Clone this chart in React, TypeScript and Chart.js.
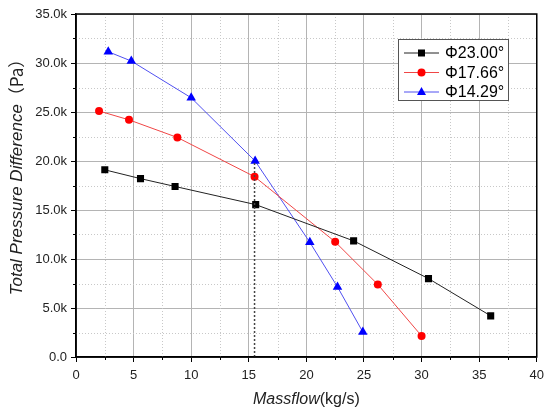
import { useEffect, useRef } from 'react';
import { Chart, registerables } from 'chart.js';

Chart.register(...registerables);

// Massflow (kg/s) vs total pressure difference (Pa)
const massflow23 = [2.5, 5.6, 8.6, 15.6, 24.1, 30.6, 36.0];
const pressure23 = [19100, 18200, 17400, 15550, 11850, 8000, 4200];

const massflow17 = [2.0, 4.6, 8.8, 15.5, 22.5, 26.2, 30.0];
const pressure17 = [25100, 24200, 22400, 18400, 11750, 7400, 2150];

const massflow14 = [2.8, 4.8, 10.0, 15.55, 20.3, 22.7, 24.9];
const pressure14 = [31150, 30200, 26450, 20000, 11700, 7150, 2550];

const seriesLabels = ['Φ23.00°', 'Φ17.66°', 'Φ14.29°'];
const markerColors = ['#000000', '#ff0000', '#0000ff'];
const lineColors = ['#222222', 'rgb(240,70,70)', 'rgb(80,80,240)'];
const markerShapes = ['rect', 'circle', 'triangle'];

// dotted marker line at the design massflow
const guideX = [15.5, 15.5];
const guideY = [0, 20000];

const xMinorTicks = [2.5, 7.5, 12.5, 17.5, 22.5, 27.5, 32.5, 37.5];
const yMinorTicks = [2500, 7500, 12500, 17500, 22500, 27500, 32500];

const FONT = '"Liberation Sans", Arial, sans-serif';

function toPoints(xs: number[], ys: number[]) {
  return xs.map((x, i) => ({ x, y: ys[i] }));
}

function drawMarker(ctx: CanvasRenderingContext2D, shape: string, x: number, y: number, color: string) {
  ctx.fillStyle = color;
  ctx.beginPath();
  if (shape === 'rect') {
    ctx.rect(x - 3.5, y - 3.5, 7, 7);
  } else if (shape === 'circle') {
    ctx.arc(x, y, 4, 0, Math.PI * 2);
  } else {
    ctx.moveTo(x, y - 5);
    ctx.lineTo(x + 4.5, y + 3);
    ctx.lineTo(x - 4.5, y + 3);
    ctx.closePath();
  }
  ctx.fill();
}

const decorPlugin = {
  id: 'decor',
  beforeDatasetsDraw(chart: any) {
    const { ctx, chartArea: a, scales } = chart;
    ctx.save();
    ctx.strokeStyle = '#c8c8c8';
    ctx.lineWidth = 1;
    ctx.setLineDash([1, 2]);
    xMinorTicks.forEach((v) => {
      const px = Math.round(scales.x.getPixelForValue(v)) + 0.5;
      ctx.beginPath();
      ctx.moveTo(px, a.top);
      ctx.lineTo(px, a.bottom);
      ctx.stroke();
    });
    yMinorTicks.forEach((v) => {
      const py = Math.round(scales.y.getPixelForValue(v)) + 0.5;
      ctx.beginPath();
      ctx.moveTo(a.left, py);
      ctx.lineTo(a.right, py);
      ctx.stroke();
    });
    ctx.restore();
  },
  afterDatasetsDraw(chart: any) {
    const { ctx, chartArea: a, scales } = chart;
    ctx.save();

    // frame
    ctx.strokeStyle = '#000';
    ctx.lineWidth = 1.5;
    ctx.strokeRect(a.left, a.top, a.right - a.left, a.bottom - a.top);

    // minor ticks
    ctx.lineWidth = 1;
    xMinorTicks.forEach((v) => {
      const px = Math.round(scales.x.getPixelForValue(v)) + 0.5;
      ctx.beginPath();
      ctx.moveTo(px, a.bottom);
      ctx.lineTo(px, a.bottom + 3);
      ctx.stroke();
    });
    yMinorTicks.forEach((v) => {
      const py = Math.round(scales.y.getPixelForValue(v)) + 0.5;
      ctx.beginPath();
      ctx.moveTo(a.left, py);
      ctx.lineTo(a.left - 3, py);
      ctx.stroke();
    });

    // legend
    const lx = 398.5;
    const ly = 39.5;
    ctx.fillStyle = '#fff';
    ctx.fillRect(lx, ly, 110, 61);
    ctx.strokeStyle = '#555';
    ctx.strokeRect(lx, ly, 110, 61);
    seriesLabels.forEach((label, i) => {
      const y = 53 + i * 19.5;
      ctx.strokeStyle = lineColors[i];
      ctx.lineWidth = 1;
      ctx.beginPath();
      ctx.moveTo(404, y);
      ctx.lineTo(439, y);
      ctx.stroke();
      drawMarker(ctx, markerShapes[i], 421.5, y, markerColors[i]);
      ctx.fillStyle = '#000';
      ctx.font = `16px ${FONT}`;
      ctx.textAlign = 'left';
      ctx.textBaseline = 'middle';
      ctx.fillText(label, 445, y + 1);
    });

    // axis titles: italic quantity, upright unit
    ctx.fillStyle = '#222';
    ctx.textBaseline = 'middle';
    ctx.textAlign = 'left';

    ctx.font = `italic 16px ${FONT}`;
    const xName = 'Massflow';
    const xw1 = ctx.measureText(xName).width;
    ctx.font = `16px ${FONT}`;
    const xUnit = '(kg/s)';
    const xw2 = ctx.measureText(xUnit).width;
    const xStart = (a.left + a.right) / 2 - (xw1 + xw2) / 2;
    ctx.font = `italic 16px ${FONT}`;
    ctx.fillText(xName, xStart, 400);
    ctx.font = `16px ${FONT}`;
    ctx.fillText(xUnit, xStart + xw1, 400);

    ctx.translate(17, 173);
    ctx.rotate(-Math.PI / 2);
    ctx.font = `italic 17px ${FONT}`;
    const yName = 'Total Pressure Difference';
    const yw1 = ctx.measureText(yName).width;
    ctx.font = `17px "Noto Sans CJK SC", ${FONT}`;
    const yUnit = '（Pa）';
    const yw2 = ctx.measureText(yUnit).width;
    const yStart = -(yw1 + yw2) / 2;
    ctx.font = `italic 17px ${FONT}`;
    ctx.fillText(yName, yStart, 0);
    ctx.font = `17px "Noto Sans CJK SC", ${FONT}`;
    ctx.fillText(yUnit, yStart + yw1, 0);

    ctx.restore();
  },
};

export default function App() {
  const canvasRef = useRef<HTMLCanvasElement>(null);
  const chartRef = useRef<any>(null);

  useEffect(() => {
    if (!canvasRef.current) return;
    if (chartRef.current) chartRef.current.destroy();

    const ctx = canvasRef.current.getContext('2d');
    if (!ctx) return;

    const series = [
      toPoints(massflow23, pressure23),
      toPoints(massflow17, pressure17),
      toPoints(massflow14, pressure14),
    ];

    chartRef.current = new Chart(ctx, {
      type: 'scatter',
      data: {
        datasets: [
          {
            label: 'guide',
            data: toPoints(guideX, guideY),
            showLine: true,
            borderColor: '#444',
            borderWidth: 1.5,
            borderDash: [2, 2],
            pointRadius: 0,
          },
          ...series.map((data, i) => ({
            label: seriesLabels[i],
            data,
            showLine: true,
            borderColor: lineColors[i],
            borderWidth: 1,
            pointStyle: markerShapes[i],
            pointRadius: i === 0 ? 5 : i === 1 ? 4 : 5.5,
            pointBackgroundColor: markerColors[i],
            pointBorderColor: markerColors[i],
            pointBorderWidth: 0,
          })),
        ],
      },
      options: {
        responsive: false,
        animation: false,
        layout: { padding: { left: 0, top: 14, right: 13, bottom: 0 } },
        plugins: {
          legend: { display: false },
          tooltip: { enabled: false },
        },
        scales: {
          x: {
            type: 'linear',
            min: 0,
            max: 40,
            afterFit: (scale: any) => { scale.height = 58; },
            ticks: {
              stepSize: 5,
              color: '#222',
              padding: 6,
              font: { family: FONT, size: 13 },
              callback: (v: any) => String(v),
            },
            grid: { color: '#b4b4b4', lineWidth: 1, tickLength: 5, tickColor: '#000' },
            border: { display: true, color: '#000', width: 1.5 },
          },
          y: {
            min: 0,
            max: 35000,
            afterFit: (scale: any) => { scale.width = 76; },
            ticks: {
              stepSize: 5000,
              color: '#222',
              padding: 4,
              font: { family: FONT, size: 13 },
              callback: (v: any) => (v === 0 ? '0.0' : (v / 1000).toFixed(1) + 'k'),
            },
            grid: { color: '#b4b4b4', lineWidth: 1, tickLength: 5, tickColor: '#000' },
            border: { display: true, color: '#000', width: 1.5 },
          },
        },
      },
      plugins: [decorPlugin],
    });

    return () => {
      if (chartRef.current) {
        chartRef.current.destroy();
        chartRef.current = null;
      }
    };
  }, []);

  return (
    <div style={{ position: 'fixed', left: 0, top: 0, width: 550, height: 415, background: '#fff' }}>
      <canvas ref={canvasRef} width={550} height={415} style={{ display: 'block' }}></canvas>
    </div>
  );
}
